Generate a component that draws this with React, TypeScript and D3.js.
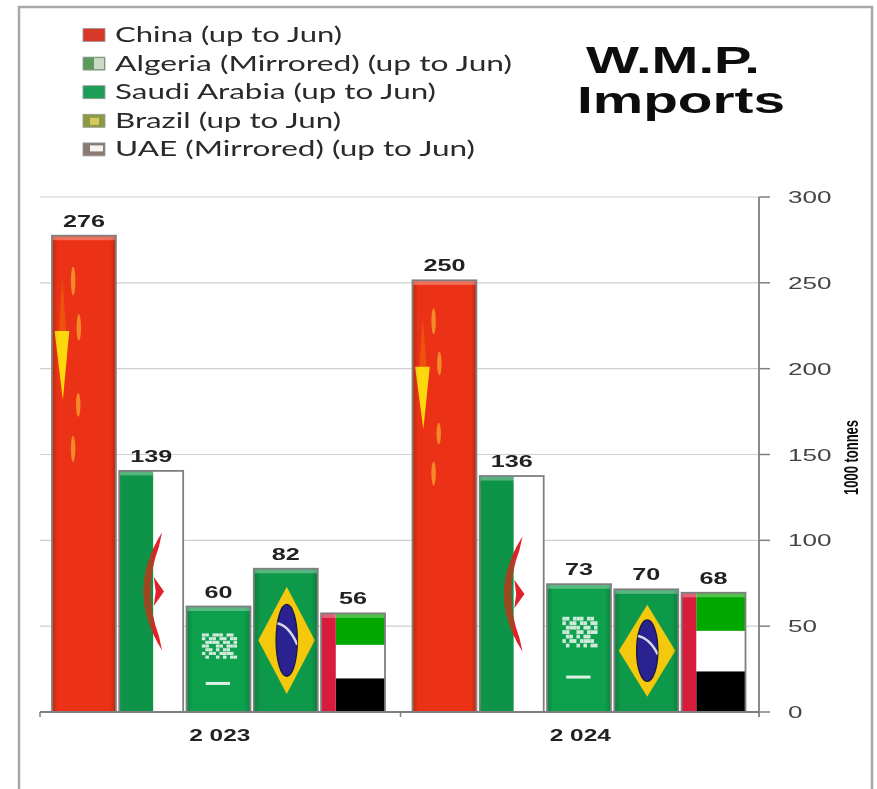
import React from "react";
import * as d3 from "d3";

const years = ["2 023", "2 024"];
const countries = ["China", "Algeria", "Saudi", "Brazil", "UAE"];
const china = [276, 250];
const algeria = [139, 136];
const saudi = [60, 73];
const brazil = [82, 70];
const uae = [56, 68];
const seriesValues = [china, algeria, saudi, brazil, uae];
const legendLabels = [
  "China (up to Jun)",
  "Algeria (Mirrored) (up to Jun)",
  "Saudi Arabia (up to Jun)",
  "Brazil (up to Jun)",
  "UAE (Mirrored) (up to Jun)",
];
const legendWidths = [227, 397, 321, 226, 360];
const yTicks = [0, 50, 100, 150, 200, 250, 300];
const saudiScript = [
  "1101110110",
  "1011011011",
  "0111101101",
  "1100110111",
  "0110101100",
  "1011011110",
  "0100101011",
];

const W = 877, H = 789;
const y = d3.scaleLinear().domain([0, 300]).range([712, 197]);
const x0 = d3.scaleBand<string>().domain(years).range([39, 760]);
const x1 = d3.scaleBand<string>().domain(countries).range([13, 346]).paddingInner(0.05).paddingOuter(0);
const RAISE = 2.5;

const GREY = "#7f7f7f";
const FONT = "'Liberation Sans', Arial, sans-serif";

type P = { x: number; w: number; t: number; h: number };

function China({ x, w, t, h }: P) {
  const px = (f: number) => x + f * w;
  const py = (f: number) => t + f * h;
  const dashes = [
    [0.33, 0.065, 0.125],
    [0.42, 0.165, 0.22],
    [0.41, 0.33, 0.38],
    [0.33, 0.42, 0.475],
  ];
  return (
    <g>
      <rect x={x} y={t} width={w} height={h} fill="#ec3213" />
      <path
        d={`M${px(0.16)} ${py(0.085)} L${px(0.22)} ${py(0.2)} L${px(0.11)} ${py(0.2)} Z`}
        fill="#f07a10"
        opacity={0.45}
      />
      <path
        d={`M${px(0.04)} ${py(0.2)} L${px(0.27)} ${py(0.2)} L${px(0.17)} ${py(0.345)} Z`}
        fill="#fbd90c"
      />
      {dashes.map(([fx, a, b], i) => (
        <ellipse
          key={i}
          cx={px(fx)}
          cy={py((a + b) / 2)}
          rx={w * 0.035}
          ry={(py(b) - py(a)) / 2}
          fill="#f4892a"
        />
      ))}
    </g>
  );
}

function Algeria({ x, w, t, h }: P, clipId: string) {
  const px = (f: number) => x + f * w;
  const py = (f: number) => t + f * h;
  const crescent = `M${px(0.67)} ${py(0.255)} Q${px(0.09)} ${py(0.5)} ${px(0.67)} ${py(0.745)} L${px(0.62)} ${py(0.685)} Q${px(0.36)} ${py(0.5)} ${px(0.62)} ${py(0.315)} Z`;
  const star = `M${px(0.7)} ${py(0.5)} L${px(0.54)} ${py(0.44)} L${px(0.57)} ${py(0.5)} L${px(0.54)} ${py(0.56)} Z`;
  return (
    <g>
      <clipPath id={clipId}>
        <rect x={x} y={t} width={w * 0.53} height={h} />
      </clipPath>
      <rect x={x} y={t} width={w} height={h} fill="#fff" />
      <rect x={x} y={t} width={w * 0.53} height={h} fill="#0f9448" />
      <path d={crescent} fill="#e0212b" />
      <path d={star} fill="#e0212b" />
      <g clipPath={`url(#${clipId})`}>
        <path d={crescent} fill="#9c4a24" />
        <path d={star} fill="#8f5a24" />
      </g>
    </g>
  );
}

function Saudi({ x, w, t, h }: P) {
  const bx = x + 0.24 * w;
  const bw = 0.55 * w;
  const by = t + 0.255 * h;
  const bh = 0.245 * h;
  const cw = bw / saudiScript[0].length;
  const ch = bh / saudiScript.length;
  return (
    <g>
      <rect x={x} y={t} width={w} height={h} fill="#10a04d" />
      {saudiScript.map((row, r) =>
        row.split("").map((c, k) =>
          c === "1" ? (
            <rect key={`${r}-${k}`} x={bx + k * cw} y={by + r * ch} width={cw} height={ch * 0.85} fill="#cfeadb" />
          ) : null,
        ),
      )}
      <rect x={x + 0.3 * w} y={t + 0.715 * h} width={0.38 * w} height={3} fill="#d9f0e2" />
    </g>
  );
}

function Brazil({ x, w, t, h }: P, clipId: string) {
  const cx = x + 0.515 * w;
  const cy = t + 0.5 * h;
  const hh = 0.375 * h;
  const rx = 0.165 * w;
  const ry = 0.25 * h;
  return (
    <g>
      <clipPath id={clipId}>
        <ellipse cx={cx} cy={cy} rx={rx} ry={ry} />
      </clipPath>
      <rect x={x} y={t} width={w} height={h} fill="#10994a" />
      <path d={`M${cx} ${cy - hh} L${x + 0.955 * w} ${cy} L${cx} ${cy + hh} L${x + 0.07 * w} ${cy} Z`} fill="#f4c80a" />
      <ellipse cx={cx} cy={cy} rx={rx} ry={ry} fill="#2c2290" stroke="#1c1a50" strokeWidth={1.5} />
      <g clipPath={`url(#${clipId})`}>
        <path
          d={`M${cx - rx - 6} ${cy - 0.12 * h} Q${cx} ${cy - 0.14 * h} ${cx + rx} ${cy + 0.03 * h}`}
          fill="none"
          stroke="#d8d8ea"
          strokeWidth={2.5}
        />
      </g>
    </g>
  );
}

function Uae({ x, w, t, h }: P) {
  const s = x + 0.23 * w;
  const right = w * 0.77;
  return (
    <g>
      <rect x={s} y={t} width={right} height={h * 0.32} fill="#06a800" />
      <rect x={s} y={t + h * 0.32} width={right} height={h * 0.34} fill="#fff" />
      <rect x={s} y={t + h * 0.66} width={right} height={h * 0.34} fill="#000" />
      <rect x={x} y={t} width={w * 0.23} height={h} fill="#d81f3a" />
    </g>
  );
}

function Bar({ country, year, value }: { country: string; year: string; value: number }) {
  const x = (x0(year) as number) + (x1(country) as number);
  const w = x1.bandwidth();
  const t = y(value) - RAISE;
  const h = y(0) - t;
  const p: P = { x, w, t, h };
  const id = `${country}-${year.replace(" ", "")}`;
  return (
    <g>
      {country === "China" && China(p)}
      {country === "Algeria" && Algeria(p, `a-${id}`)}
      {country === "Saudi" && Saudi(p)}
      {country === "Brazil" && Brazil(p, `b-${id}`)}
      {country === "UAE" && Uae(p)}
      {country !== "Algeria" && country !== "UAE" && (
        <rect x={x} y={t} width={w} height={h} fill="url(#edgeShade)" />
      )}
      {country !== "Algeria" && (
        <rect x={x} y={t} width={w} height={4.5} fill="#fff" opacity={0.3} />
      )}
      {country === "Algeria" && (
        <rect x={x} y={t} width={w * 0.53} height={4.5} fill="#fff" opacity={0.3} />
      )}
      <rect x={x} y={t} width={w} height={h} fill="none" stroke={GREY} strokeWidth={1.8} />
      <text
        x={x + w / 2}
        y={t - 9}
        textAnchor="middle"
        fontFamily={FONT}
        fontWeight="bold"
        fontSize={16}
        fill="#222"
        textLength={String(value).length * 14}
        lengthAdjust="spacingAndGlyphs"
      >
        {value}
      </text>
    </g>
  );
}

export default function App() {
  return (
    <svg
      width={W}
      height={H}
      viewBox={`0 0 ${W} ${H}`}
      style={{ position: "absolute", left: 0, top: 0, background: "#fff" }}
    >
      <defs>
        <linearGradient id="edgeShade" x1="0" x2="1" y1="0" y2="0">
          <stop offset="0" stopColor="#000" stopOpacity={0.18} />
          <stop offset="0.1" stopColor="#000" stopOpacity={0} />
          <stop offset="0.9" stopColor="#000" stopOpacity={0} />
          <stop offset="1" stopColor="#000" stopOpacity={0.18} />
        </linearGradient>
        <filter id="soft" filterUnits="userSpaceOnUse" x={0} y={0} width={W} height={H}>
          <feGaussianBlur stdDeviation={0.6} />
        </filter>
      </defs>
      <g filter="url(#soft)">
        <rect x={0} y={0} width={W} height={H} fill="#fff" />
        <path d={`M19 ${H + 5} V7 H872 V${H + 5}`} fill="none" stroke="#a9a9a9" strokeWidth={2.5} />

        {legendLabels.map((label, i) => {
          const cy = 35 + i * 28.6;
          const sw = ["#d8392b", "#5c9a5c", "#1f9e58", "#8a9a45", "#8a7a72"][i];
          return (
            <g key={label}>
              <rect x={83} y={cy - 6.5} width={22} height={13} fill={sw} stroke="#999" strokeWidth={0.8} />
              {i === 1 && <rect x={94} y={cy - 5.5} width={10} height={11} fill="#e8e8e0" opacity={0.8} />}
              {i === 3 && <rect x={90} y={cy - 3} width={9} height={7} fill="#d8c860" />}
              {i === 4 && <rect x={90} y={cy - 4} width={13} height={6} fill="#f4f4f0" />}
              <text
                x={115}
                y={cy + 7}
                fontFamily="Lato, 'Open Sans', sans-serif"
                fontSize={21}
                fill="#2a2a2a"
                textLength={legendWidths[i]}
                lengthAdjust="spacingAndGlyphs"
              >
                {label}
              </text>
            </g>
          );
        })}

        <text x={673} y={72.5} textAnchor="middle" fontFamily={FONT} fontWeight="bold" fontSize={36} fill="#111" textLength={174} lengthAdjust="spacingAndGlyphs">
          W.M.P.
        </text>
        <text x={681} y={112.5} textAnchor="middle" fontFamily={FONT} fontWeight="bold" fontSize={36} fill="#111" textLength={208} lengthAdjust="spacingAndGlyphs">
          Imports
        </text>

        {yTicks.filter((d) => d > 0).map((d) => (
          <line key={d} x1={40} x2={759} y1={y(d)} y2={y(d)} stroke="#cfcfcf" strokeWidth={1.2} />
        ))}

        {years.map((yr, yi) =>
          countries.map((c, ci) => (
            <Bar key={`${yr}-${c}`} country={c} year={yr} value={seriesValues[ci][yi]} />
          )),
        )}

        <line x1={40} x2={759} y1={y(0)} y2={y(0)} stroke={GREY} strokeWidth={1.8} />
        {[40, 400.5].map((tx) => (
          <line key={tx} x1={tx} x2={tx} y1={y(0)} y2={y(0) + 5} stroke={GREY} strokeWidth={1.5} />
        ))}
        <line x1={759} x2={759} y1={y(300)} y2={y(0) + 5} stroke={GREY} strokeWidth={1.8} />
        {yTicks.map((d) => (
          <g key={d}>
            <line x1={759} x2={770} y1={y(d)} y2={y(d)} stroke={GREY} strokeWidth={1.5} />
            <text
              x={788}
              y={y(d) + 6}
              fontFamily={FONT}
              fontSize={16}
              fill="#444"
              textLength={String(d).length * 14.5}
              lengthAdjust="spacingAndGlyphs"
            >
              {d}
            </text>
          </g>
        ))}
        {years.map((yr) => (
          <text
            key={yr}
            x={(x0(yr) as number) + x0.bandwidth() / 2 + 0.5}
            y={741}
            textAnchor="middle"
            fontFamily={FONT}
            fontWeight="bold"
            fontSize={16}
            fill="#222"
            textLength={61}
            lengthAdjust="spacingAndGlyphs"
          >
            {yr}
          </text>
        ))}
        <text
          transform="translate(858 495) rotate(-90)"
          fontFamily={FONT}
          fontWeight="bold"
          fontSize={21}
          fill="#111"
          textLength={75}
          lengthAdjust="spacingAndGlyphs"
        >
          1000 tonnes
        </text>
      </g>
    </svg>
  );
}
